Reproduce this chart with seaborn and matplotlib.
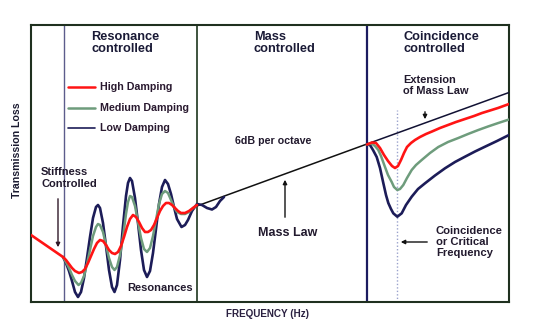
import matplotlib
matplotlib.use("Agg")
import matplotlib.pyplot as plt
import seaborn as sns
import pandas as pd

# ---- data (arbitrary log-frequency / transmission-loss units) ----
red_x = [0, 16, 32, 35, 38, 41, 44, 48, 51, 54, 57, 60, 63, 66, 69, 72, 75, 78, 81, 84, 87, 90, 93, 96, 99,
         102, 105, 108, 111, 114, 117, 120, 123, 126, 129, 132, 135, 138, 141, 144, 147, 150, 154, 158, 162, 166]
red_y = [67, 56, 45, 42, 38, 34, 31, 29, 30, 33, 39, 46, 53, 59, 62, 61, 57, 52, 49, 48, 50, 56, 65, 75, 83,
         87, 85, 80, 74, 70, 70, 72, 77, 84, 91, 96, 99, 99, 97, 94, 91, 89, 89, 91, 94, 97]

green_x = [32, 35, 38, 41, 44, 47.5, 50, 53, 56, 59, 62, 65, 67, 69, 72, 75, 78, 81, 83.5, 86, 89, 92, 95, 97,
           99, 101, 104, 107, 110, 113, 116, 119, 122, 125, 128, 131, 134, 137, 140, 143, 146, 150, 154, 158, 162, 166]
green_y = [45, 40, 34, 27, 21, 17, 19, 26, 38, 52, 66, 75, 78, 77, 70, 57, 44, 35, 32, 35, 47, 65, 88, 100,
           106, 105, 96, 80, 64, 53, 50, 54, 66, 82, 98, 108, 111, 109, 102, 95, 90, 88, 88, 90, 94, 97]

blue_x = [32, 35, 38, 41, 44, 47, 50, 53, 56, 59, 62, 65, 67, 69, 72, 75, 78, 81, 83.5, 86, 89, 92, 95, 97, 99,
          101, 104, 107, 110, 113, 116, 119, 122, 125, 128, 131, 134, 137, 140, 143, 146, 150.5, 154, 157, 161,
          166, 171, 176, 181, 185, 189, 193]
blue_y = [45, 39, 31, 21, 10, 5, 10, 24, 44, 65, 84, 95, 97, 94, 79, 56, 32, 15, 10, 17, 42, 76, 106, 119, 124,
          121, 104, 79, 52, 32, 25, 31, 49, 73, 98, 115, 122, 118, 108, 95, 83, 75, 77, 82, 91,
          98, 97, 94, 92.5, 95, 101, 105]

# coincidence region
red_c_x = [336, 341, 345, 349, 353, 357, 361, 364, 367, 370, 373, 376, 380, 384, 389, 395, 401, 409, 417, 425,
           434, 443, 451, 459, 467, 478]
red_c_y = [157.5, 159.5, 159, 154, 147, 141, 136, 134, 136, 142, 149, 155, 159, 162, 165, 168, 170.5, 174, 177,
           180, 183, 186, 189, 191.5, 194, 198]
green_c_x = [336, 340.7, 344, 347.3, 350, 354, 357, 360.7, 363, 366.3, 369, 372.3, 376, 380.7, 385, 390.7, 399,
             407.3, 417, 427.3, 437, 447.3, 457, 467.3, 478]
green_c_y = [157.5, 158.5, 156, 152, 146, 135, 127, 120, 115, 112, 113, 117, 124, 132, 137, 142, 149, 155, 160,
             164, 168, 172, 175.5, 179, 182.5]
blue_c_x = [336, 339, 342, 345.7, 349, 352.3, 355, 357.3, 360, 362.3, 366.3, 370.7, 375, 380.7, 387, 394, 404,
            414, 424, 434, 444, 454, 466, 478]
blue_c_y = [157.5, 157, 152, 145, 134, 119, 107, 99, 93, 88.7, 85.3, 88.7, 97, 105.3, 113, 118.7, 126.5, 133.7,
            140, 145.3, 150.5, 155.3, 161, 167]

mass_x = [166, 336]
mass_y = [96, 158]
ext_x = [336, 478]
ext_y = [158, 209.5]

region_x = [33, 166, 336]
critical_x = 366

legend_labels = ["High Damping", "Medium Damping", "Low Damping"]
RED, GREEN, BLUE = "#ff1414", "#6e9c7c", "#1c1c58"

sns.set_theme(style="white")
plt.rcParams["font.family"] = ["Liberation Sans", "DejaVu Sans"]
plt.rcParams["font.weight"] = "bold"

fig = plt.figure(figsize=(5.54, 3.31), dpi=100)
ax = fig.add_axes([31 / 554, 29 / 331, 478 / 554, 277 / 331])
ax.set_xlim(0, 478)
ax.set_ylim(0, 277)

def draw(xs, ys, color, lw):
    df = pd.DataFrame({"x": xs, "y": ys})
    sns.lineplot(data=df, x="x", y="y", sort=False, color=color, linewidth=lw, ax=ax, zorder=3)

draw(mass_x, mass_y, "#111111", 1.1)
draw(ext_x, ext_y, "#111133", 1.1)
draw(blue_x, blue_y, BLUE, 1.9)
draw(green_x, green_y, GREEN, 1.8)
draw(red_x, red_y, RED, 1.9)
draw(blue_c_x, blue_c_y, BLUE, 1.9)
draw(green_c_x, green_c_y, GREEN, 1.8)
draw(red_c_x, red_c_y, RED, 1.9)

ax.axvline(region_x[0], color="#5c5c8c", lw=1.0, zorder=2)
ax.axvline(region_x[1], color="#1e361e", lw=1.2, zorder=2)
ax.axvline(region_x[2], color="#1c1c60", lw=1.6, zorder=2)
ax.vlines(critical_x, 0, 192, colors="#9aa2cc", linestyles=(0, (1, 1.5)), lw=1.0, zorder=2)

ax.set_xticks([])
ax.set_yticks([])
ax.set_xlabel("")
ax.set_ylabel("")
for s in ax.spines.values():
    s.set_color("#1f301f")
    s.set_linewidth(1.5)

tc = "#1a1a36"
fs = 9.2
ax.text(60, 271, "Resonance\ncontrolled", fontsize=fs, fontweight="bold", color=tc, va="top", ha="left",
        linespacing=1.05)
ax.text(223, 271, "Mass\ncontrolled", fontsize=fs, fontweight="bold", color=tc, va="top", ha="left",
        linespacing=1.05)
ax.text(372, 271, "Coincidence\ncontrolled", fontsize=fs, fontweight="bold", color=tc, va="top", ha="left",
        linespacing=1.05)

# legend
leg_y = [215, 194, 174]
for lab, col, yy in zip(legend_labels, [RED, GREEN, BLUE], leg_y):
    ax.plot([37, 64], [yy, yy], color=col, lw=1.8 if col != BLUE else 1.2)
    ax.text(69, yy, lab, fontsize=7.7, fontweight="bold", color="#2a1a30", va="center", ha="left")

sc = "#221a2e"
ax.text(204, 161, "6dB per octave", fontsize=7.7, fontweight="bold", color=sc, va="center", ha="left")
ax.text(372, 227, "Extension\nof Mass Law", fontsize=7.9, fontweight="bold", color=sc, va="top", ha="left",
        linespacing=1.15)
ax.annotate("", xy=(394, 180), xytext=(394, 193),
            arrowprops=dict(arrowstyle="-|>", color="#111111", lw=1.0, mutation_scale=6))
ax.text(10, 135, "Stiffness\nControlled", fontsize=8, fontweight="bold", color=sc, va="top", ha="left",
        linespacing=1.2)
ax.annotate("", xy=(27, 52), xytext=(27, 106),
            arrowprops=dict(arrowstyle="-|>", color="#301828", lw=1.0, mutation_scale=6))
ax.text(227, 69, "Mass Law", fontsize=9, fontweight="bold", color=sc, va="center", ha="left")
ax.annotate("", xy=(254, 125), xytext=(254, 82),
            arrowprops=dict(arrowstyle="-|>", color="#111111", lw=1.0, mutation_scale=6))
ax.text(96, 14, "Resonances", fontsize=8, fontweight="bold", color=sc, va="center", ha="left")
ax.text(405, 60, "Coincidence\nor Critical\nFrequency", fontsize=8.1, fontweight="bold", color=sc,
        va="center", ha="left", linespacing=1.15)
ax.annotate("", xy=(367, 60), xytext=(399, 60),
            arrowprops=dict(arrowstyle="-|>", color="#111111", lw=1.0, mutation_scale=6))

fig.text(17.5 / 554, 1 - 150 / 331, "Transmission Loss", rotation=90, fontsize=7.6, fontweight="bold",
         color="#1a1a30", ha="center", va="center")
fig.text(268 / 554, 1 - 314 / 331, "FREQUENCY (Hz)", fontsize=7.1, fontweight="bold", color="#2a2040",
         ha="center", va="center")

fig.savefig("out.png", dpi=100)
